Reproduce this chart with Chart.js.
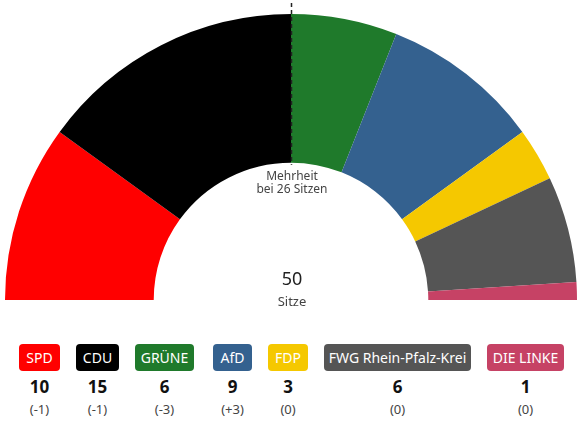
<!DOCTYPE html>
<html>
<head>
<meta charset="utf-8">
<script src="https://cdn.jsdelivr.net/npm/chart.js@4"></script>
<style>
  html, body { margin: 0; padding: 0; background: #fff; font-family: "Noto Sans", "Open Sans", sans-serif; }
  #wrap { position: relative; width: 588px; height: 312px; }
  #legend { display: flex; gap: 16px; padding-left: 19px; margin-top: 32px; }
  .item { display: flex; flex-direction: column; align-items: center; }
  .badge { height: 27px; line-height: 27px; border-radius: 4px; color: #fff; font-size: 14px; white-space: nowrap; text-align: center; overflow: hidden; }
  .item:nth-child(1) .badge { width: 41px; }
  .item:nth-child(2) .badge { width: 43px; }
  .item:nth-child(3) .badge { width: 59px; }
  .item:nth-child(4) { margin-left: 3px; }
  .item:nth-child(4) .badge { width: 39px; }
  .item:nth-child(5) .badge { width: 40px; }
  .item:nth-child(6) .badge { width: 147px; }
  .item:nth-child(7) .badge { width: 77px; }
  .seats { font-weight: bold; font-size: 17px; color: #111; margin-top: 4px; line-height: 24px; }
  .diff { font-size: 13px; color: #444; line-height: 20px; }
</style>
</head>
<body>
<div id="wrap"><canvas id="chart" width="588" height="312"></canvas></div>
<div id="legend"></div>
<script>
const parties = ["SPD", "CDU", "GRÜNE", "AfD", "FDP", "FWG Rhein-Pfalz-Krei", "DIE LINKE"];
const seats = [10, 15, 6, 9, 3, 6, 1];
const changes = ["(-1)", "(-1)", "(-3)", "(+3)", "(0)", "(0)", "(0)"];
const colors = ["#ff0000", "#000000", "#1f7a2b", "#34618f", "#f5c800", "#555555", "#c64265"];
const totalSeats = 50;
const majorityText = ["Mehrheit", "bei 26 Sitzen"];

const centerText = {
  id: "centerText",
  afterDraw(chart) {
    const arc = chart.getDatasetMeta(0).data[0];
    if (!arc) return;
    const { x, y, outerRadius, innerRadius } = arc;
    const c = chart.ctx;
    c.save();
    // majority line
    c.strokeStyle = "#222"; c.lineWidth = 1.5; c.setLineDash([4, 3]);
    c.beginPath(); c.moveTo(x + 0.5, y - outerRadius - 11); c.lineTo(x + 0.5, y - innerRadius + 2); c.stroke();
    c.setLineDash([]);
    c.textAlign = "center"; c.textBaseline = "middle";
    c.fillStyle = "#444"; c.font = "12px 'Noto Sans', sans-serif";
    c.fillText(majorityText[0], x + 1, y - innerRadius + 14);
    c.fillText(majorityText[1], x + 1, y - innerRadius + 27);
    c.fillStyle = "#222"; c.font = "18px 'Noto Sans', sans-serif";
    c.fillText(String(totalSeats), x + 1, y - 20);
    c.fillStyle = "#444"; c.font = "13px 'Noto Sans', sans-serif";
    c.fillText("Sitze", x + 1, y + 2);
    c.restore();
  }
};

new Chart(document.getElementById("chart"), {
  type: "doughnut",
  data: { labels: parties, datasets: [{ data: seats, backgroundColor: colors, borderWidth: 0 }] },
  options: {
    responsive: false, animation: false, rotation: -90, circumference: 180, cutout: "48%",
    layout: { padding: { left: 5, right: 11, top: 14, bottom: 12 } },
    plugins: { legend: { display: false }, tooltip: { enabled: false } }
  },
  plugins: [centerText]
});

document.getElementById("legend").innerHTML = parties.map((p, i) =>
  `<div class="item"><div class="badge" style="background:${colors[i]}">${p}</div><div class="seats">${seats[i]}</div><div class="diff">${changes[i]}</div></div>`
).join("");
</script>
</body>
</html>
